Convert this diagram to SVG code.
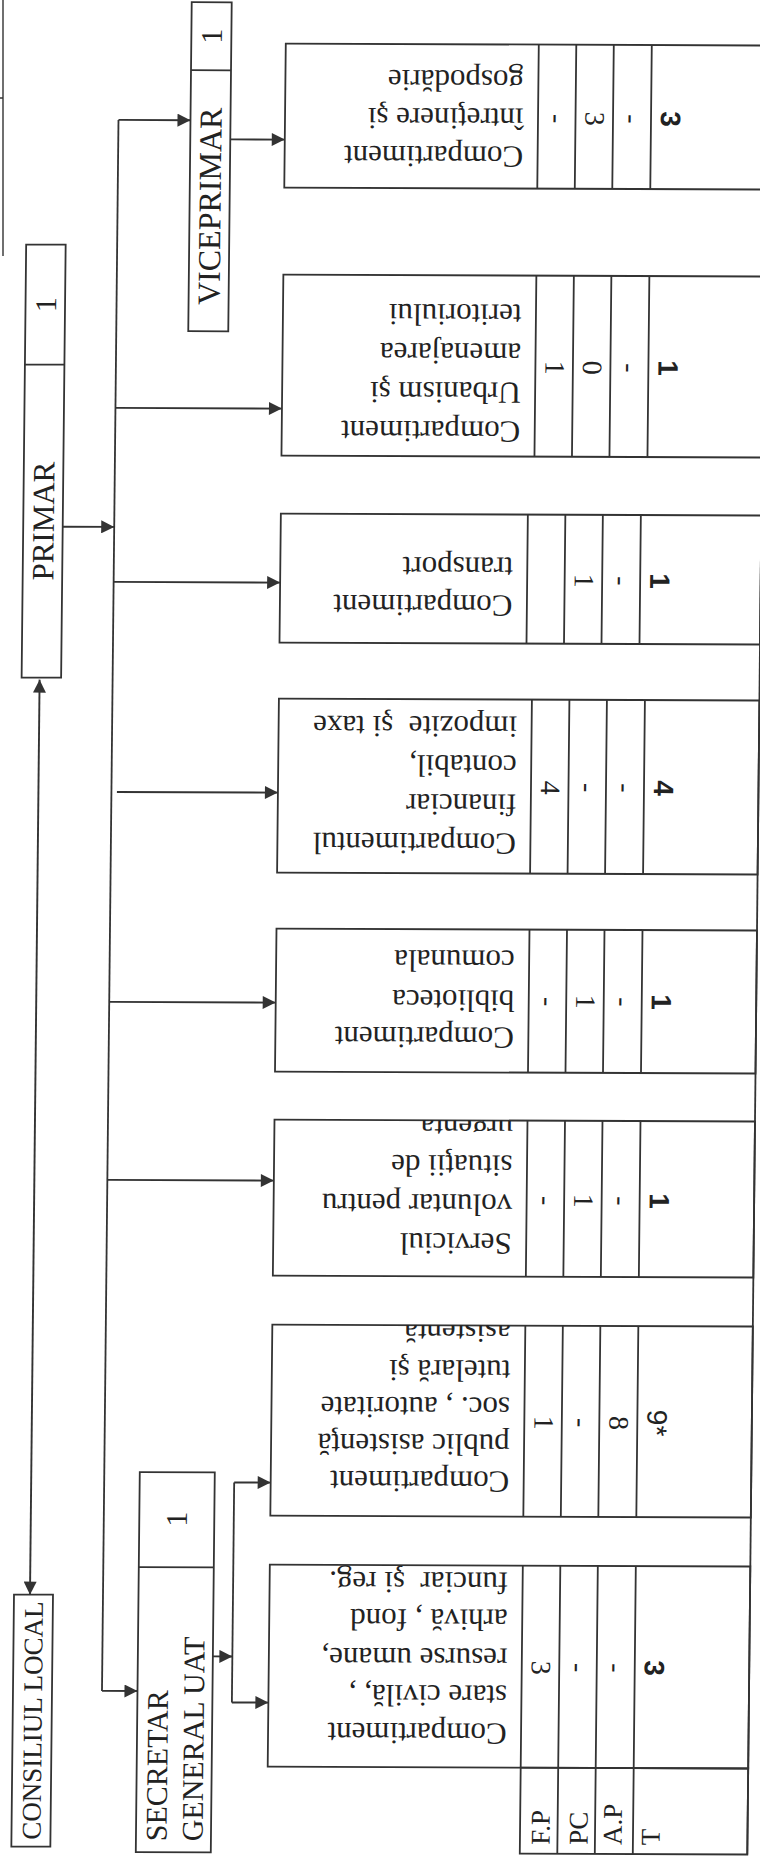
<svg xmlns="http://www.w3.org/2000/svg" width="760" height="1858" viewBox="0 0 760 1858">
<style>
.bg{fill:#fff}
.box{fill:none;stroke:#333;stroke-width:1.8}
.ln{fill:none;stroke:#333;stroke-width:1.8}
.arr{fill:none;stroke:#333;stroke-width:1.9;marker-end:url(#ah)}
.lbl{font-family:"Liberation Serif","Times New Roman",serif;font-size:30px;fill:#222}
.dt{font-family:"Liberation Serif","Times New Roman",serif;font-size:31px;fill:#222;white-space:pre}
.num{font-family:"Liberation Serif","Times New Roman",serif;font-size:28px;fill:#222;text-anchor:middle;dominant-baseline:central}
.tot{font-family:"Liberation Sans",Arial,sans-serif;font-size:28px;font-weight:bold;fill:#222;text-anchor:middle;dominant-baseline:central}
.hd{font-family:"Liberation Serif","Times New Roman",serif;font-size:27px;fill:#222}
</style>
<defs>
<marker id="ah" viewBox="0 0 10 10" refX="10" refY="5" markerWidth="15" markerHeight="13" markerUnits="userSpaceOnUse" orient="auto-start-reverse"><path d="M0,0 L10,5 L0,10 z" fill="#333"/></marker>
<clipPath id="c1"><rect x="276.5" y="44" width="253" height="144"/></clipPath>
<clipPath id="c2"><rect x="276.5" y="275" width="253" height="181"/></clipPath>
<clipPath id="c3"><rect x="276.5" y="514" width="247" height="129"/></clipPath>
<clipPath id="c4"><rect x="276.5" y="699" width="253" height="174"/></clipPath>
<clipPath id="c5"><rect x="276.5" y="929" width="253" height="143"/></clipPath>
<clipPath id="c6"><rect x="276.5" y="1120" width="253" height="156"/></clipPath>
<clipPath id="c7"><rect x="276.5" y="1325" width="253" height="191"/></clipPath>
<clipPath id="c8"><rect x="276.5" y="1565" width="253" height="202"/></clipPath>
</defs>
<rect class="bg" x="0" y="0" width="760" height="1858"/>
<g id="page-edge"><path class="ln" style="stroke-width:1.4" d="M3,0 V256 M0,98 H3"/></g>
<g transform="matrix(1 0.004 -0.0105 1 9.75 -1.52)">
<g id="connectors">
<path class="ln" d="M110,1692 V121"/>
<path class="arr" d="M110,121 H182"/>
<path class="arr" d="M222,140 H276.5"/>
<path class="arr" d="M58.5,528 H110"/>
<path class="arr" d="M110,409 H276.5"/>
<path class="arr" d="M110,583 H276.5"/>
<path class="arr" d="M115.5,793 H276.5"/>
<path class="arr" d="M110,1003 H276.5"/>
<path class="arr" d="M110,1181 H276.5"/>
<path class="arr" d="M110,1692 H145.5"/>
<path class="arr" d="M220.5,1657 H240"/>
<path class="ln" d="M240,1483 V1703"/>
<path class="arr" d="M240,1483 H276.5"/>
<path class="arr" d="M240,1703 H276.5"/>
<path class="arr" style="marker-start:url(#ah)" d="M37,681 V1596"/>
</g>
<g id="right-border"><path class="ln" d="M757,-30 V1853"/></g>
<g id="primar">
<rect class="box" x="19" y="246" width="39.5" height="433"/>
<path class="ln" d="M19,366 H58.5"/>
<text class="lbl" transform="rotate(-90 49.5 306)" x="49.5" y="306" text-anchor="middle">1</text>
<text class="lbl" style="font-size:31px" transform="rotate(-90 49.5 522.5)" x="49.5" y="522.5" text-anchor="middle">PRIMAR</text>
</g>
<g id="viceprimar">
<rect class="box" x="182" y="3" width="40" height="329"/>
<path class="ln" d="M182,71 H222"/>
<text class="lbl" transform="rotate(-90 212.5 37)" x="212.5" y="37" text-anchor="middle">1</text>
<text class="lbl" style="font-size:32px" transform="rotate(-90 213 207)" x="213" y="207" text-anchor="middle">VICEPRIMAR</text>
</g>
<g id="consiliul-local">
<rect class="box" x="21" y="1596" width="39" height="252"/>
<text class="lbl" style="font-size:27px" transform="rotate(-90 50 1722)" x="50" y="1722" text-anchor="middle">CONSILIUL LOCAL</text>
</g>
<g id="secretar">
<rect class="box" x="145.5" y="1473" width="75" height="380"/>
<path class="ln" d="M145.5,1568 H220.5"/>
<text class="lbl" transform="rotate(-90 193 1520)" x="193" y="1520" text-anchor="middle">1</text>
<text class="lbl" transform="rotate(-90 176 1842)" x="176" y="1842">SECRETAR</text>
<text class="lbl" transform="rotate(-90 212 1842)" x="212" y="1842">GENERAL UAT</text>
</g>

<g id="dept-intretinere">
<rect class="box" x="276.5" y="44" width="480.5" height="144"/>
<path class="ln" d="M529.5,44V188 M567,44V188 M604.5,44V188 M642.5,44V188"/>
<g clip-path="url(#c1)">
<text class="dt" transform="rotate(180 515 146)" x="515" y="146">Compartiment</text>
<text class="dt" transform="rotate(180 515 108)" x="515" y="108">întreţinere şi</text>
<text class="dt" transform="rotate(180 515 70)" x="515" y="70">gospodărie</text>
</g>
<text class="num" transform="rotate(90 549 118)" x="549" y="118">-</text>
<text class="num" transform="rotate(90 586.5 118)" x="586.5" y="118">3</text>
<text class="num" transform="rotate(90 624 118)" x="624" y="118">-</text>
<text class="tot" transform="rotate(90 662 118)" x="662" y="118">3</text>
</g>

<g id="dept-urbanism">
<rect class="box" x="276.5" y="275" width="480.5" height="181"/>
<path class="ln" d="M529.5,275V456 M567,275V456 M604.5,275V456 M642.5,275V456"/>
<g clip-path="url(#c2)">
<text class="dt" transform="rotate(180 515 421)" x="515" y="421">Compartiment</text>
<text class="dt" transform="rotate(180 515 382)" x="515" y="382">Urbanism şi</text>
<text class="dt" transform="rotate(180 515 343)" x="515" y="343">amenajarea</text>
<text class="dt" transform="rotate(180 515 304)" x="515" y="304">teritoriului</text>
</g>
<text class="num" transform="rotate(90 549 367)" x="549" y="367">1</text>
<text class="num" transform="rotate(90 586.5 367)" x="586.5" y="367">0</text>
<text class="num" transform="rotate(90 624 367)" x="624" y="367">-</text>
<text class="tot" transform="rotate(90 662 367)" x="662" y="367">1</text>
</g>

<g id="dept-transport">
<rect class="box" x="276.5" y="514" width="480.5" height="129"/>
<path class="ln" d="M523.5,514V643 M561,514V643 M598.5,514V643 M636.5,514V643"/>
<g clip-path="url(#c3)">
<text class="dt" transform="rotate(180 509 595)" x="509" y="595">Compartiment</text>
<text class="dt" transform="rotate(180 509 557)" x="509" y="557">transport</text>
</g>
<text class="num" transform="rotate(90 580.5 580)" x="580.5" y="580">1</text>
<text class="num" transform="rotate(90 618 580)" x="618" y="580">-</text>
<text class="tot" transform="rotate(90 656 580)" x="656" y="580">1</text>
</g>

<g id="dept-financiar">
<rect class="box" x="276.5" y="699" width="480.5" height="174"/>
<path class="ln" d="M529.5,699V873 M567,699V873 M604.5,699V873 M642.5,699V873"/>
<g clip-path="url(#c4)">
<text class="dt" transform="rotate(180 515 833)" x="515" y="833">Compartimentul</text>
<text class="dt" transform="rotate(180 515 794)" x="515" y="794">financiar</text>
<text class="dt" transform="rotate(180 515 755)" x="515" y="755">contabil,</text>
<text class="dt" transform="rotate(180 515 716)" x="515" y="716">impozite  şi taxe</text>
</g>
<text class="num" transform="rotate(90 549 787)" x="549" y="787">4</text>
<text class="num" transform="rotate(90 586.5 787)" x="586.5" y="787">-</text>
<text class="num" transform="rotate(90 624 787)" x="624" y="787">-</text>
<text class="tot" transform="rotate(90 662 787)" x="662" y="787">4</text>
</g>

<g id="dept-biblioteca">
<rect class="box" x="276.5" y="929" width="480.5" height="143"/>
<path class="ln" d="M529.5,929V1072 M567,929V1072 M604.5,929V1072 M642.5,929V1072"/>
<g clip-path="url(#c5)">
<text class="dt" transform="rotate(180 515 1027)" x="515" y="1027">Compartiment</text>
<text class="dt" transform="rotate(180 515 990)" x="515" y="990">biblioteca</text>
<text class="dt" transform="rotate(180 515 950)" x="515" y="950">comunala</text>
</g>
<text class="num" transform="rotate(90 549 1001)" x="549" y="1001">-</text>
<text class="num" transform="rotate(90 586.5 1001)" x="586.5" y="1001">1</text>
<text class="num" transform="rotate(90 624 1001)" x="624" y="1001">-</text>
<text class="tot" transform="rotate(90 662 1001)" x="662" y="1001">1</text>
</g>

<g id="dept-serviciul">
<rect class="box" x="276.5" y="1120" width="480.5" height="156"/>
<path class="ln" d="M529.5,1120V1276 M567,1120V1276 M604.5,1120V1276 M642.5,1120V1276"/>
<g clip-path="url(#c6)">
<text class="dt" transform="rotate(180 515 1233)" x="515" y="1233">Serviciul</text>
<text class="dt" transform="rotate(180 515 1194)" x="515" y="1194">voluntar pentru</text>
<text class="dt" transform="rotate(180 515 1155)" x="515" y="1155">situaţii de</text>
<text class="dt" transform="rotate(180 515 1116)" x="515" y="1116">urgenta</text>
</g>
<text class="num" transform="rotate(90 549 1200)" x="549" y="1200">-</text>
<text class="num" transform="rotate(90 586.5 1200)" x="586.5" y="1200">1</text>
<text class="num" transform="rotate(90 624 1200)" x="624" y="1200">-</text>
<text class="tot" transform="rotate(90 662 1200)" x="662" y="1200">1</text>
</g>

<g id="dept-asistenta">
<rect class="box" x="276.5" y="1325" width="480.5" height="191"/>
<path class="ln" d="M529.5,1325V1516 M567,1325V1516 M604.5,1325V1516 M642.5,1325V1516"/>
<g clip-path="url(#c7)">
<text class="dt" transform="rotate(180 515 1471)" x="515" y="1471">Compartiment</text>
<text class="dt" transform="rotate(180 515 1434)" x="515" y="1434">public asistenţă</text>
<text class="dt" transform="rotate(180 515 1397)" x="515" y="1397">soc. , autoritate</text>
<text class="dt" transform="rotate(180 515 1360)" x="515" y="1360">tutelară şi</text>
<text class="dt" transform="rotate(180 515 1321)" x="515" y="1321">asistenţă</text>
</g>
<text class="num" transform="rotate(90 549 1422)" x="549" y="1422">1</text>
<text class="num" transform="rotate(90 586.5 1422)" x="586.5" y="1422">-</text>
<text class="num" transform="rotate(90 624 1422)" x="624" y="1422">8</text>
<text class="tot" style="font-weight:normal" transform="rotate(90 662 1422)" x="662" y="1422">9*</text>
</g>

<g id="dept-stare-civila">
<rect class="box" x="276.5" y="1565" width="480.5" height="202"/>
<path class="ln" d="M529.5,1565V1767 M567,1565V1767 M604.5,1565V1767 M642.5,1565V1767"/>
<g clip-path="url(#c8)">
<text class="dt" transform="rotate(180 515 1723)" x="515" y="1723">Compartiment</text>
<text class="dt" transform="rotate(180 515 1685)" x="515" y="1685">stare civilă, ,</text>
<text class="dt" transform="rotate(180 515 1648)" x="515" y="1648">resurse umane,</text>
<text class="dt" transform="rotate(180 515 1609)" x="515" y="1609">arhivă , fond</text>
<text class="dt" transform="rotate(180 515 1572)" x="515" y="1572">funciar  şi reg.</text>
</g>
<text class="num" transform="rotate(90 549 1667)" x="549" y="1667">3</text>
<text class="num" transform="rotate(90 586.5 1667)" x="586.5" y="1667">-</text>
<text class="num" transform="rotate(90 624 1667)" x="624" y="1667">-</text>
<text class="tot" transform="rotate(90 662 1667)" x="662" y="1667">3</text>
</g>

<g id="legend-table">
<rect class="box" x="529.5" y="1767" width="227.5" height="86"/>
<path class="ln" d="M567,1767V1853 M604.5,1767V1853 M642.5,1767V1853"/>
<text class="hd" transform="rotate(-90 559 1844)" x="559" y="1844">F.P</text>
<text class="hd" transform="rotate(-90 597 1844)" x="597" y="1844">PC</text>
<text class="hd" transform="rotate(-90 631 1844)" x="631" y="1844">A.P</text>
<text class="hd" transform="rotate(-90 669 1844)" x="669" y="1844">T</text>
</g>
</g>
</svg>
